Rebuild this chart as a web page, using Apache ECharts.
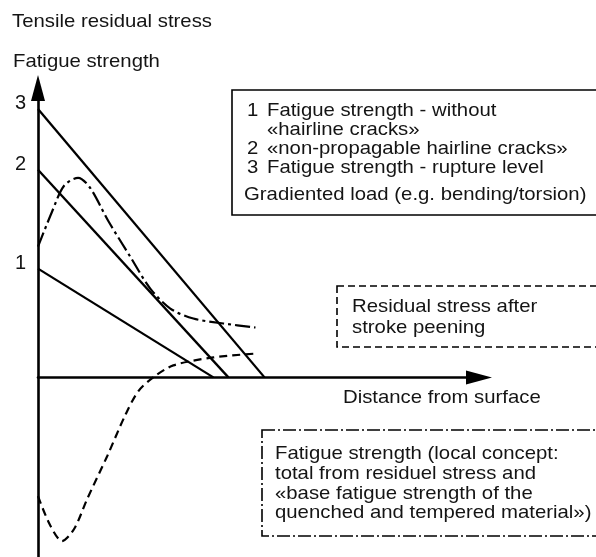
<!DOCTYPE html>
<html>
<head>
<meta charset="utf-8">
<script src="https://cdn.jsdelivr.net/npm/echarts@6/dist/echarts.min.js"></script>
<style>
  html, body { margin: 0; padding: 0; background: #fff; }
  #chart { width: 596px; height: 557px; }
</style>
</head>
<body>
<div id="chart"></div>
<script>
// Straight fatigue-strength lines: [distance, strength] at surface and at zero crossing
const line1 = [[0, 1.09], [1.75, 0]];
const line2 = [[0, 2.08], [1.90, 0]];
const line3 = [[0, 2.69], [2.26, 0]];
const lineIds = ['1', '2', '3'];

// Local fatigue strength (dash-dot curve)
const localStrength = [
  [0, 1.31], [0.14, 1.66], [0.26, 1.92], [0.40, 2.00], [0.52, 1.90],
  [0.70, 1.57], [0.92, 1.21], [1.12, 0.89], [1.32, 0.69], [1.55, 0.59],
  [1.85, 0.54], [2.17, 0.50]
];

// Residual stress after stroke peening (dashed curve)
const residualStress = [
  [0, -1.19], [0.12, -1.48], [0.24, -1.64], [0.36, -1.52], [0.49, -1.22],
  [0.69, -0.79], [0.87, -0.38], [1.00, -0.14], [1.15, 0], [1.35, 0.12],
  [1.75, 0.20], [2.19, 0.24]
];

const xRange = [0, 4.4];
const yRange = [-1.8, 2.9];

const legendLines = [
  ['1', 'Fatigue strength - without'],
  ['', '«hairline cracks»'],
  ['2', '«non-propagable hairline cracks»'],
  ['3', 'Fatigue strength - rupture level']
];
const loadNote = 'Gradiented load (e.g. bending/torsion)';
const peeningNote = ['Residual stress after', 'stroke peening'];
const localNote = [
  'Fatigue strength (local concept:',
  'total from residuel stress and',
  '«base fatigue strength of the',
  'quenched and tempered material»)'
];

const FAMILY = '"Liberation Sans", Arial, Helvetica, sans-serif';
const FONT = '19px ' + FAMILY;
const INK = '#141414';

function txt(text, x, y) {
  return {
    type: 'text', x: x, y: y, scaleX: 1.07, z: 20,
    style: {
      text: text, fill: INK, font: FONT,
      align: 'left', verticalAlign: 'middle',
      textAlign: 'left', textVerticalAlign: 'middle'
    }
  };
}

function box(x, y, w, h, dash) {
  return {
    type: 'rect', z: 15,
    shape: { x: x, y: y, width: w, height: h },
    style: { fill: 'none', stroke: '#000', lineWidth: 1.6, lineDash: dash || null }
  };
}

const graphics = [
  txt('Tensile residual stress', 12, 22),
  txt('Fatigue strength', 13, 62),
  box(232, 90, 400, 125, null),
  box(337, 286, 300, 61, [7, 4]),
  box(262, 430, 360, 106, [13, 3, 2, 3]),
  txt(loadNote, 244, 195),
  txt('Distance from surface', 343, 398)
];
legendLines.forEach(function (row, i) {
  const y = 111 + i * 19;
  if (row[0]) graphics.push(txt(row[0], 247, y));
  graphics.push(txt(row[1], 267, y));
});
peeningNote.forEach(function (t, i) { graphics.push(txt(t, 352, 307 + i * 21)); });
localNote.forEach(function (t, i) { graphics.push(txt(t, 275, 454 + i * 19.7)); });

function idMark(id, start) {
  return {
    symbol: 'circle', symbolSize: 0, silent: true,
    data: [{
      coord: start,
      label: {
        show: true, formatter: id, position: 'left', distance: 12, offset: [0, -5],
        color: INK, fontSize: 20, fontFamily: FAMILY
      }
    }]
  };
}

function straight(data, id) {
  return {
    type: 'line', data: data, symbol: 'none', animation: false,
    lineStyle: { color: '#000', width: 2.3 },
    markPoint: idMark(id, data[0])
  };
}

const axisLine = {
  show: true, onZero: true,
  symbol: ['none', 'triangle'], symbolSize: [14, 26],
  lineStyle: { color: '#000', width: 2.6 }
};

const chart = echarts.init(document.getElementById('chart'), null, { renderer: 'canvas' });
chart.setOption({
  animation: false,
  backgroundColor: '#fff',
  grid: { left: 38, top: 88, width: 441, height: 470 },
  xAxis: {
    type: 'value', min: xRange[0], max: xRange[1],
    axisLine: axisLine, axisTick: { show: false }, axisLabel: { show: false },
    splitLine: { show: false }
  },
  yAxis: {
    type: 'value', min: yRange[0], max: yRange[1],
    axisLine: axisLine, axisTick: { show: false }, axisLabel: { show: false },
    splitLine: { show: false }
  },
  series: [
    straight(line1, lineIds[0]),
    straight(line2, lineIds[1]),
    straight(line3, lineIds[2]),
    {
      type: 'line', data: localStrength, symbol: 'none', smooth: 0.3,
      lineStyle: { color: '#000', width: 2.2, type: [15, 4, 3, 4] }
    },
    {
      type: 'line', data: residualStress, symbol: 'none', smooth: 0.3,
      lineStyle: { color: '#000', width: 2.2, type: [8, 5] }
    }
  ],
  graphic: graphics
});
</script>
</body>
</html>
